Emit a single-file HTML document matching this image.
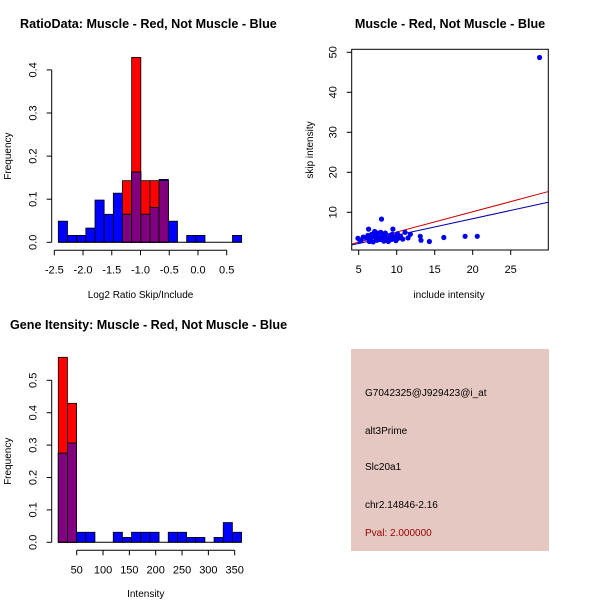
<!DOCTYPE html>
<html><head><meta charset="utf-8"><style>
body{margin:0;background:#fff}
svg{display:block;font-family:"Liberation Sans",Arial,sans-serif}
</style></head><body>
<svg id="c" width="600" height="600" viewBox="0 0 600 600" xmlns="http://www.w3.org/2000/svg"></svg>
<script>
// ---- Ratio histogram data ----
const ratioBinStart = -2.43;
const ratioBinWidth = 0.1595;
const ratioBlue = [0.049,0.016,0.016,0.033,0.098,0.065,0.114,0.065,0.163,0.065,0.081,0.146,0.049,0,0.016,0.016,0,0,0,0.016];
const ratioRed  = [0,0,0,0,0,0,0,0.143,0.429,0.143,0.143,0.143,0,0,0,0,0,0,0,0];
const ratioXTicks = [-2.5,-2.0,-1.5,-1.0,-0.5,0.0,0.5];
const ratioYTicks = [0.0,0.1,0.2,0.3,0.4];
// ---- Intensity histogram data ----
const intBinStart = 15;
const intBinWidth = 17.4;
const intBlue = [0.275,0.306,0.031,0.031,0,0,0.031,0.015,0.031,0.031,0.031,0,0.031,0.031,0.015,0.015,0,0.015,0.061,0.031];
const intRed  = [0.571,0.429,0,0,0,0,0,0,0,0,0,0,0,0,0,0,0,0,0,0];
const intXTicks = [50,100,150,200,250,300,350];
const intYTicks = [0.0,0.1,0.2,0.3,0.4,0.5];
// ---- Scatter data ----
const incl = [4.9,5.3,5.6,5.2,6.2,6.3,6.5,6.7,6.9,7.1,7.3,7.5,7.8,7.9,8.0,8.2,8.3,8.5,8.7,8.9,9.1,9.3,9.5,9.7,9.9,10.1,10.3,10.5,10.8,11.1,11.5,11.8,13.1,13.2,14.3,16.2,19.0,20.6,28.8,6.0,6.8,7.2,7.6,8.1,8.4,9.0,9.4,10.0,6.4,7.4,8.8,9.8];
const skip = [3.5,3.0,3.8,2.8,4.2,5.8,3.3,4.5,2.6,5.2,3.6,4.8,3.2,5.0,8.3,4.0,2.8,4.8,3.5,2.7,4.2,3.2,5.8,3.8,2.9,4.6,3.6,4.0,3.3,5.0,3.6,4.5,4.0,3.0,2.7,3.7,4.0,4.0,48.7,3.6,3.9,4.2,3.9,3.4,4.3,3.6,4.5,3.3,2.7,3.0,3.1,3.5];
const scXTicks = [5,10,15,20,25];
const scYTicks = [10,20,30,40,50];
const redFit = [0.0, 0.507];   // intercept, slope
const blueFit = [0.14, 0.413];

const NS="http://www.w3.org/2000/svg";
const svg=document.getElementById('c');
function mk(tag,attrs,parent,txt){const e=document.createElementNS(NS,tag);for(const k in attrs)e.setAttribute(k,attrs[k]);if(txt!==undefined)e.textContent=txt;(parent||svg).appendChild(e);return e;}

function histogram(name,title,tx,ty,xlab,xs,ys,yAxisX,xAxisY,binStart,binW,blue,red,xt,yt,xfmt,yfmt,xlabY,xlabShift){
  const g=mk('g',{});  
  const t=mk('text',{x:tx,y:ty,'font-size':12.6,'font-weight':'bold',fill:'#000'},g,title);
   
  for(let i=0;i<blue.length;i++){
    const x0=xs(binStart+i*binW), x1=xs(binStart+(i+1)*binW);
    const r=red[i], b=blue[i];
    if(r>0){const e=mk('rect',{x:x0,y:ys(r),width:x1-x0,height:ys(0)-ys(r),fill:'#ff0000',stroke:'#000','stroke-width':0.8},g);
       }
    if(b>0){
      const e=mk('rect',{x:x0,y:ys(b),width:x1-x0,height:ys(0)-ys(b),fill:'#0000ff',stroke:'#000','stroke-width':0.8},g);
       
      const m=Math.min(r,b);
      if(m>0){const p=mk('rect',{x:x0,y:ys(m),width:x1-x0,height:ys(0)-ys(m),fill:'#800080',stroke:'#000','stroke-width':0.8},g);
         }
    }
  }
  mk('line',{x1:xs(binStart),x2:xs(binStart+blue.length*binW),y1:ys(0),y2:ys(0),stroke:'#000'},g);
  const xa=mk('g',{},g);  
  mk('line',{x1:xs(xt[0]),x2:xs(xt[xt.length-1]),y1:xAxisY,y2:xAxisY,stroke:'#000'},xa);
  xt.forEach(v=>{mk('line',{x1:xs(v),x2:xs(v),y1:xAxisY,y2:xAxisY+5,stroke:'#000'},xa);
    mk('text',{x:xs(v),y:xAxisY+23,'font-size':11,'text-anchor':'middle'},xa,xfmt(v));});
  const xl=mk('text',{x:(xs(xt[0])+xs(xt[xt.length-1]))/2+xlabShift,y:xlabY,'font-size':10,'text-anchor':'middle'},g,xlab);
   
  const ya=mk('g',{},g);  
  mk('line',{x1:yAxisX,x2:yAxisX,y1:ys(yt[0]),y2:ys(yt[yt.length-1]),stroke:'#000'},ya);
  yt.forEach(v=>{mk('line',{x1:yAxisX,x2:yAxisX-5,y1:ys(v),y2:ys(v),stroke:'#000'},ya);
    mk('text',{x:0,y:0,'font-size':11,'text-anchor':'middle',transform:`translate(${yAxisX-15},${ys(v)}) rotate(-90)`},ya,yfmt(v));});
  const yl=mk('text',{x:0,y:0,'font-size':10,'text-anchor':'middle',transform:`translate(11,${(ys(yt[0])+ys(yt[yt.length-1]))/2}) rotate(-90)`},g,'Frequency');
   
}

const rxs=v=>54.3+(v+2.5)*57.47, rys=v=>242.3-v*431;
histogram('ratio-histogram','RatioData: Muscle - Red, Not Muscle - Blue',20,28,'Log2 Ratio Skip/Include',rxs,rys,51.7,250.3,ratioBinStart,ratioBinWidth,ratioBlue,ratioRed,ratioXTicks,ratioYTicks,v=>v.toFixed(1),v=>v.toFixed(1),298,0);
const ixs=v=>76.7+(v-50)*0.5267, iys=v=>542.3-v*324;
histogram('intensity-histogram','Gene Itensity: Muscle - Red, Not Muscle - Blue',10,329,'Intensity',ixs,iys,51.7,550.3,intBinStart,intBinWidth,intBlue,intRed,intXTicks,intYTicks,v=>String(v),v=>v.toFixed(1),597,-10);

(function(){
  const g=mk('g',{});  
  const xs=v=>358.7+(v-5)*7.6, ys=v=>212.3-(v-10)*4;
  const t=mk('text',{x:450,y:28,'font-size':12.6,'font-weight':'bold','text-anchor':'middle'},g,'Muscle - Red, Not Muscle - Blue');
   
  const L=351.7,R=548.3,T=49.3,B=250;
  const box=mk('rect',{x:L,y:T,width:R-L,height:B-T,fill:'none',stroke:'#000'},g);
   
  const x0=(L-358.7)/7.6+5, x1=(R-358.7)/7.6+5;
  [[redFit,'#cc0000','red-fit-line'],[blueFit,'#0000aa','blue-fit-line']].forEach(([f,c,n])=>{
    const l=mk('line',{x1:xs(x0),y1:ys(f[0]+f[1]*x0),x2:xs(x1),y2:ys(f[0]+f[1]*x1),stroke:c,'stroke-width':1},g);
     
  });
  for(let i=0;i<incl.length;i++){
    const p=mk('circle',{cx:xs(incl[i]),cy:ys(skip[i]),r:2.6,fill:'#0000ee'},g);
     
  }
  const xa=mk('g',{},g);  
  scXTicks.forEach(v=>{mk('line',{x1:xs(v),x2:xs(v),y1:B,y2:B+5,stroke:'#000'},xa);
    mk('text',{x:xs(v),y:B+23,'font-size':11,'text-anchor':'middle'},xa,String(v));});
  const xl=mk('text',{x:449,y:298,'font-size':10,'text-anchor':'middle'},g,'include intensity');
   
  const ya=mk('g',{},g);  
  scYTicks.forEach(v=>{mk('line',{x1:L,x2:L-5,y1:ys(v),y2:ys(v),stroke:'#000'},ya);
    mk('text',{x:0,y:0,'font-size':11,'text-anchor':'middle',transform:`translate(${L-15},${ys(v)}) rotate(-90)`},ya,String(v));});
  const yl=mk('text',{x:0,y:0,'font-size':10,'text-anchor':'middle',transform:'translate(313,150) rotate(-90)'},g,'skip intensity');
   
})();

(function(){
  const g=mk('g',{});  
  mk('rect',{x:351,y:349,width:198,height:202,fill:'#e6c8c2'},g);
  const lines=[['G7042325@J929423@i_at',396,'#000','probe-id'],['alt3Prime',434,'#000','event-type'],['Slc20a1',470,'#000','gene-name'],['chr2.14846-2.16',508,'#000','location'],['Pval: 2.000000',536,'#990000','p-value']];
  lines.forEach(([s,y,c,n])=>{const e=mk('text',{x:365,y:y,'font-size':10,fill:c},g,s);
     });
})();
</script>
</body></html>
